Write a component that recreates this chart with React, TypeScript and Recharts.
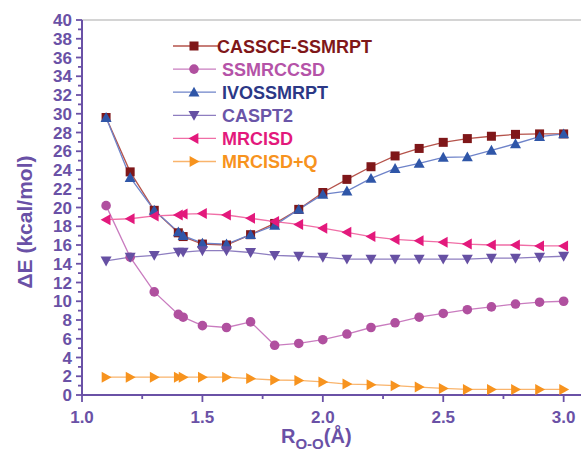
import React from "react";
import { LineChart, Line, XAxis, YAxis, ReferenceLine } from "recharts";

const rOO = [1.1, 1.2, 1.3, 1.4, 1.42, 1.5, 1.6, 1.7, 1.8, 1.9, 2.0, 2.1, 2.2, 2.3, 2.4, 2.5, 2.6, 2.7, 2.8, 2.9, 3.0];
const casscfSsmrpt = [29.6, 23.8, 19.7, 17.3, 16.9, 16.1, 16.0, 17.1, 18.3, 19.8, 21.6, 23.0, 24.35, 25.5, 26.3, 26.95, 27.35, 27.6, 27.8, 27.85, 27.85];
const ssmrccsd = [20.2, 14.7, 11.0, 8.6, 8.3, 7.4, 7.2, 7.8, 5.3, 5.5, 5.9, 6.5, 7.2, 7.7, 8.3, 8.7, 9.1, 9.4, 9.7, 9.9, 10.0];
const ivossmrpt = [29.6, 23.2, 19.7, 17.4, 17.0, 16.2, 16.1, 17.1, 18.1, 19.8, 21.4, 21.75, 23.1, 24.15, 24.7, 25.35, 25.4, 26.1, 26.8, 27.55, 27.85];
const caspt2 = [14.3, 14.7, 14.9, 15.25, 15.25, 15.4, 15.4, 15.2, 14.9, 14.8, 14.7, 14.5, 14.5, 14.5, 14.5, 14.5, 14.5, 14.6, 14.6, 14.7, 14.8];
const mrcisd = [18.7, 18.8, 19.1, 19.2, 19.3, 19.35, 19.2, 18.85, 18.5, 18.2, 17.8, 17.35, 16.9, 16.6, 16.45, 16.3, 16.1, 16.0, 16.0, 15.9, 15.9];
const mrcisdQ = [1.9, 1.9, 1.9, 1.9, 1.9, 1.9, 1.9, 1.75, 1.6, 1.55, 1.4, 1.17, 1.1, 1.0, 0.85, 0.7, 0.6, 0.6, 0.6, 0.6, 0.6];

const xTicks = [1.0, 1.25, 1.5, 1.75, 2.0, 2.25, 2.5, 2.75, 3.0];
const xTickLabels = ["1.0", "", "1.5", "", "2.0", "", "2.5", "", "3.0"];
const yTicks = Array.from({ length: 41 }, (_, i) => i);

const series = [
  { key: "casscf", name: "CASSCF-SSMRPT", values: casscfSsmrpt, shape: "square", mark: "#7f1719", line: "#b5534b", text: "#7f1719" },
  { key: "ssmrccsd", name: "SSMRCCSD", values: ssmrccsd, shape: "circle", mark: "#b0509f", line: "#c97cbf", text: "#b553a8" },
  { key: "ivo", name: "IVOSSMRPT", values: ivossmrpt, shape: "up", mark: "#2f56a8", line: "#6e83c9", text: "#2b3886" },
  { key: "caspt2", name: "CASPT2", values: caspt2, shape: "down", mark: "#6650a3", line: "#8e7ec0", text: "#6a55a8" },
  { key: "mrcisd", name: "MRCISD", values: mrcisd, shape: "left", mark: "#e3197c", line: "#f06ea6", text: "#e3197c" },
  { key: "mrcisdq", name: "MRCISD+Q", values: mrcisdQ, shape: "right", mark: "#f7931e", line: "#f9b46c", text: "#f7931e" },
];

const data = rOO.map((r, i) => {
  const row: Record<string, number> = { r };
  series.forEach((s) => (row[s.key] = s.values[i]));
  return row;
});

const axisColor = "#6a51a6";
const font = "'Liberation Sans', Arial, sans-serif";

function Marker({ shape, cx, cy, fill }: { shape: string; cx: number; cy: number; fill: string }) {
  const h = 5.5;
  switch (shape) {
    case "square":
      return <rect x={cx - 4.5} y={cy - 4.5} width={9} height={9} fill={fill} />;
    case "circle":
      return <circle cx={cx} cy={cy} r={4.8} fill={fill} />;
    case "up":
      return <polygon points={`${cx},${cy - h} ${cx - h},${cy + h * 0.8} ${cx + h},${cy + h * 0.8}`} fill={fill} />;
    case "down":
      return <polygon points={`${cx},${cy + h} ${cx - h},${cy - h * 0.8} ${cx + h},${cy - h * 0.8}`} fill={fill} />;
    case "left":
      return <polygon points={`${cx - h},${cy} ${cx + h * 0.8},${cy - h} ${cx + h * 0.8},${cy + h}`} fill={fill} />;
    default:
      return <polygon points={`${cx + h},${cy} ${cx - h * 0.8},${cy - h} ${cx - h * 0.8},${cy + h}`} fill={fill} />;
  }
}

function YTick(props: any) {
  const { x, y, payload } = props;
  const major = payload.value % 2 === 0;
  return (
    <g>
      <line x1={x - (major ? 6 : 4)} x2={x} y1={y} y2={y} stroke={axisColor} strokeWidth={1.8} />
      {major && (
        <text x={x - 10} y={y} dy={6} textAnchor="end" fill={axisColor} fontSize={17} fontWeight="bold" fontFamily={font}>
          {payload.value}
        </text>
      )}
    </g>
  );
}

function XTick(props: any) {
  const { x, y, payload, index } = props;
  const label = xTickLabels[index];
  return (
    <g>
      <line x1={x} x2={x} y1={y} y2={y + (label ? 7 : 4)} stroke={axisColor} strokeWidth={1.8} />
      {label && (
        <text x={x} y={y + 28} textAnchor="middle" fill={axisColor} fontSize={17} fontWeight="bold" fontFamily={font}>
          {label}
        </text>
      )}
    </g>
  );
}

export default function App() {
  return (
    <div style={{ position: "absolute", left: 0, top: 0, width: 581, height: 456, background: "#fff" }}>
      <LineChart width={581} height={456} data={data} margin={{ top: 20, right: 0, bottom: 0, left: 0 }}>
        <XAxis
          dataKey="r"
          type="number"
          domain={[1, 3.072]}
          ticks={xTicks}
          interval={0}
          allowDataOverflow
          height={61}
          tickSize={0}
          tickMargin={0}
          tick={<XTick />}
          axisLine={{ stroke: axisColor, strokeWidth: 2 }}
        />
        <YAxis
          type="number"
          domain={[0, 40]}
          ticks={yTicks}
          interval={0}
          width={82}
          tickSize={0}
          tickMargin={0}
          tick={<YTick />}
          axisLine={{ stroke: axisColor, strokeWidth: 2 }}
        />
        <ReferenceLine y={40} stroke="#a9a9a9" strokeWidth={1} />
        {series.map((s) => (
          <Line
            key={s.key}
            dataKey={s.key}
            stroke={s.line}
            strokeWidth={1.3}
            isAnimationActive={false}
            dot={(p: any) => <Marker key={`${s.key}-${p.index}`} shape={s.shape} cx={p.cx} cy={p.cy} fill={s.mark} />}
            activeDot={false}
          />
        ))}
      </LineChart>
      <svg width={581} height={456} style={{ position: "absolute", left: 0, top: 0, pointerEvents: "none" }}>
        <text
          transform="translate(32,222) rotate(-90)"
          textAnchor="middle"
          fill={axisColor}
          fontSize={21}
          fontWeight="bold"
          fontFamily={font}
        >
          ΔE (kcal/mol)
        </text>
        <text x={281} y={443} fill={axisColor} fontSize={20} fontWeight="bold" fontFamily={font}>
          R
          <tspan fontSize={15} dy={6}>O-O</tspan>
          <tspan fontSize={20} dy={-6}>(Å)</tspan>
        </text>
        {series.map((s, i) => {
          const y = 46 + i * 23.1;
          return (
            <g key={s.key}>
              <line x1={173} x2={i === 0 ? 218 : 216} y1={y} y2={y} stroke={s.line} strokeWidth={1.3} />
              <Marker shape={s.shape} cx={194} cy={y} fill={s.mark} />
              <text x={i === 0 ? 217 : 222} y={y + 6.5} fill={s.text} fontSize={18} fontWeight="bold" fontFamily={font}>
                {s.name}
              </text>
            </g>
          );
        })}
      </svg>
    </div>
  );
}
